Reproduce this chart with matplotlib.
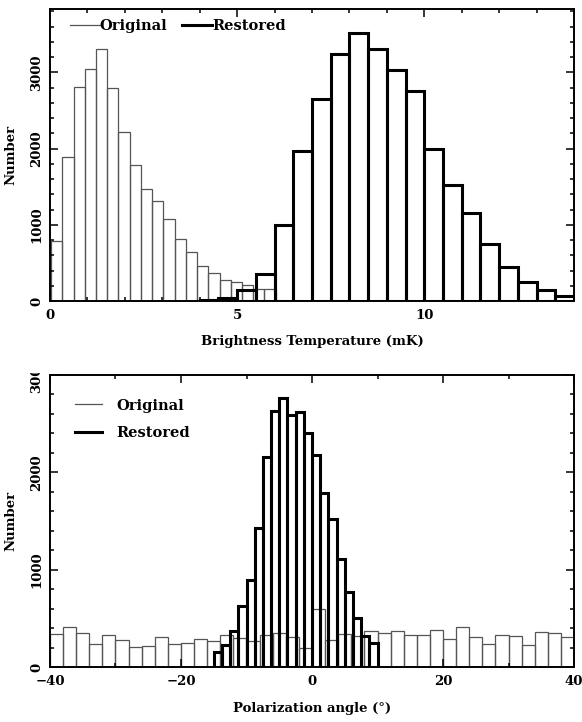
import numpy as np
import matplotlib
matplotlib.use("Agg")
import matplotlib.pyplot as plt
from matplotlib.ticker import MultipleLocator
from matplotlib.transforms import Bbox, TransformedBbox

# ---------------- data ----------------
# Top panel: brightness temperature histograms
tb_orig_start = 0.03
tb_orig_width = 0.3
tb_orig_counts = [781, 1895, 2807, 3044, 3303, 2789, 2219, 1781, 1474, 1307,
                  1070, 807, 649, 460, 364, 276, 250, 215, 162, 153]
tb_rest_start = 4.0
tb_rest_width = 0.5
tb_rest_counts = [9, 40, 150, 360, 1000, 1965, 2654, 3237, 3518, 3311,
                  3035, 2750, 2000, 1526, 1158, 750, 447, 246, 149, 66]

# Bottom panel: polarization angle histograms
pa_orig_start = -40.0
pa_orig_width = 2.0
pa_orig_counts = [337, 409, 347, 237, 326, 275, 206, 220, 306, 237,
                  250, 288, 267, 329, 301, 267, 329, 349, 305, 193,
                  592, 280, 340, 318, 365, 350, 366, 330, 330, 381,
                  292, 416, 313, 241, 326, 320, 223, 361, 354, 313]
pa_rest_start = -15.0
pa_rest_width = 1.25
pa_rest_counts = [155, 227, 371, 622, 893, 1426, 2155, 2629, 2759, 2588,
                  2615, 2402, 2175, 1783, 1522, 1113, 770, 502, 320, 251]

top_xticks = [0, 5, 10]
top_yticks = [0, 1000, 2000, 3000]
bot_xticks = [-40, -20, 0, 20, 40]
bot_yticks = [0, 1000, 2000, 3000]

# ---------------- style ----------------
W, H = 582, 722
FONT = "DejaVu Serif"
FS = 9.5
LFS = 10.5
plt.rcParams["font.family"] = [FONT]
plt.rcParams["font.weight"] = "bold"
plt.rcParams["axes.labelweight"] = "bold"

ORIG_C = "#555555"
ORIG_LW = 0.9
REST_C = "black"
REST_LW = 2.2

fig = plt.figure(figsize=(W / 100, H / 100), dpi=100)

def px_axes(l, t, r, b):
    return fig.add_axes([l / W, 1 - b / H, (r - l) / W, (b - t) / H])

ax1 = px_axes(50, 9, 574, 301)
ax2 = px_axes(50, 375, 574, 667)


def edges_left(start, width, n):
    return start + width * np.arange(n)


def style_axes(ax, xmin, ymin_step):
    for s in ax.spines.values():
        s.set_linewidth(1.4)
        s.set_color("black")
    ax.xaxis.set_minor_locator(MultipleLocator(xmin))
    ax.yaxis.set_minor_locator(MultipleLocator(ymin_step))
    ax.tick_params(which="both", direction="in", top=True, right=True,
                   width=1.1, color="black")
    ax.tick_params(which="major", length=6)
    ax.tick_params(which="minor", length=3)
    ax.tick_params(axis="x", which="major", pad=6, labelsize=FS)
    ax.tick_params(axis="y", which="major", pad=5, labelsize=FS)
    for lab in ax.get_yticklabels():
        lab.set_rotation(90)
        lab.set_va("center")
    for lab in ax.get_xticklabels() + ax.get_yticklabels():
        lab.set_fontweight("bold")


# ---- top panel ----
ax1.bar(edges_left(tb_orig_start, tb_orig_width, len(tb_orig_counts)), tb_orig_counts,
        width=tb_orig_width, align="edge", fill=False, edgecolor=ORIG_C,
        linewidth=ORIG_LW)
ax1.bar(edges_left(tb_rest_start, tb_rest_width, len(tb_rest_counts)), tb_rest_counts,
        width=tb_rest_width, align="edge", fill=False, edgecolor=REST_C,
        linewidth=REST_LW)
ax1.set_xlim(0, 14)
ax1.set_ylim(0, 3830)
ax1.set_xticks(top_xticks)
ax1.set_yticks(top_yticks)
ax1.set_xticklabels([str(v) for v in top_xticks])
ax1.set_yticklabels([str(v) for v in top_yticks])
style_axes(ax1, 1, 200)
ax1.set_xlabel("Brightness Temperature (mK)", fontsize=FS, fontweight="bold", labelpad=9)
ax1.set_ylabel("Number", fontsize=FS, fontweight="bold", labelpad=9)

h1 = plt.Line2D([], [], color=ORIG_C, lw=ORIG_LW)
h2 = plt.Line2D([], [], color=REST_C, lw=REST_LW)
ax1.legend([h1, h2], ["Original", "Restored"], loc="center left", ncol=2,
           frameon=False, prop={"family": FONT, "weight": "bold", "size": LFS},
           handlelength=2.05, handletextpad=0.0, columnspacing=1.0,
           borderaxespad=0.0, borderpad=0.0,
           bbox_to_anchor=(0.038, 0.943))

# ---- bottom panel ----
ax2.bar(edges_left(pa_orig_start, pa_orig_width, len(pa_orig_counts)), pa_orig_counts,
        width=pa_orig_width, align="edge", fill=False, edgecolor=ORIG_C,
        linewidth=ORIG_LW)
ax2.bar(edges_left(pa_rest_start, pa_rest_width, len(pa_rest_counts)), pa_rest_counts,
        width=pa_rest_width, align="edge", fill=False, edgecolor=REST_C,
        linewidth=REST_LW)
ax2.set_xlim(-40, 40)
ax2.set_ylim(0, 3000)
ax2.set_xticks(bot_xticks)
ax2.set_yticks(bot_yticks)
ax2.set_xticklabels(["\u221240", "\u221220", "0", "20", "40"])
ax2.set_yticklabels([str(v) for v in bot_yticks])
style_axes(ax2, 10, 200)
ax2.set_xlabel("Polarization angle (\u00b0)", fontsize=FS, fontweight="bold", labelpad=10)
ax2.set_ylabel("Number", fontsize=FS, fontweight="bold", labelpad=9)

ax2.legend([h1, h2], ["Original", "Restored"], loc="center left", ncol=1,
           frameon=False, prop={"family": FONT, "weight": "bold", "size": LFS},
           handlelength=1.85, handletextpad=1.0, labelspacing=0.9,
           borderaxespad=0.0, borderpad=0.0,
           bbox_to_anchor=(0.048, 0.849))

# clip the top tick label of the bottom panel at the frame, as in the original
fig.canvas.draw()
top_frac = 1 - 373 / H
clip = TransformedBbox(Bbox([[0, 0], [1, top_frac]]), fig.transFigure)
for lab in ax2.get_yticklabels():
    if lab.get_text() == "3000":
        lab.set_clip_box(clip)
        lab.set_clip_on(True)

fig.savefig("out.png", dpi=100)
